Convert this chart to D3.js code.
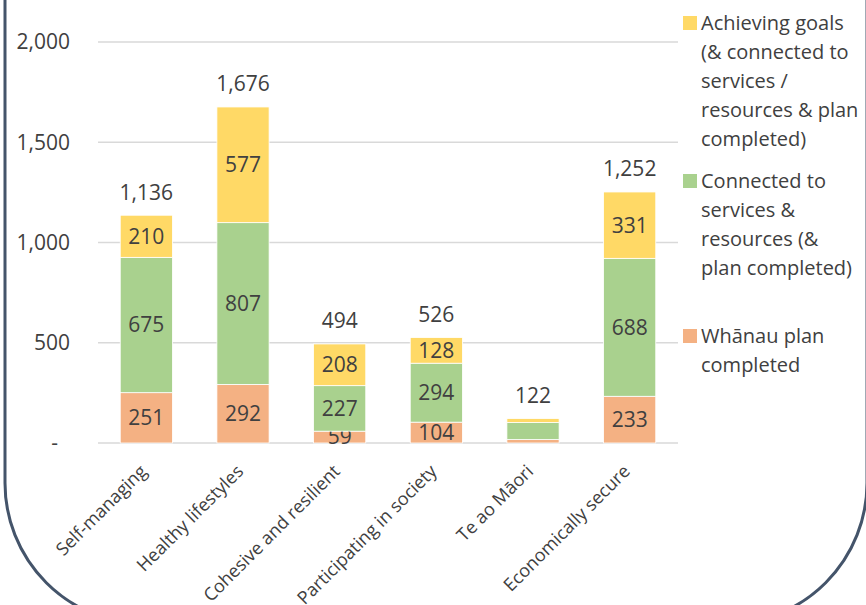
<!DOCTYPE html>
<html>
<head>
<meta charset="utf-8">
<script src="https://cdn.jsdelivr.net/npm/d3@7"></script>
<style>
  body { margin: 0; background: #fff; }
  text { font-family: "Open Sans", sans-serif; fill: #404040; }
</style>
</head>
<body>
<div id="chart"></div>
<script>
var categories = ["Self-managing", "Healthy lifestyles", "Cohesive and resilient",
                  "Participating in society", "Te ao Māori", "Economically secure"];
var planCompleted = [251, 292, 59, 104, 17, 233];
var connected = [675, 807, 227, 294, 85, 688];
var achieving = [210, 577, 208, 128, 20, 331];
var totals = [1136, 1676, 494, 526, 122, 1252];
var showSegLabels = [true, true, true, true, false, true];
var yTicks = [0, 500, 1000, 1500, 2000];

var seriesNames = ["planCompleted", "connected", "achieving"];
var colors = { planCompleted: "#F4B183", connected: "#A9D18E", achieving: "#FFD966" };

var W = 866, H = 605;
var margin = {top: 42, right: 188, bottom: 162, left: 98},
    width = W - margin.left - margin.right,
    height = H - margin.top - margin.bottom;

var svg = d3.select("#chart").append("svg")
    .attr("width", W)
    .attr("height", H);

// rounded frame, mostly cropped
svg.append("rect")
  .attr("x", 5).attr("y", -200)
  .attr("width", 862).attr("height", 824)
  .attr("rx", 141).attr("ry", 141)
  .attr("fill", "none")
  .attr("stroke", "#44546A")
  .attr("stroke-width", 3);

var g = svg.append("g")
  .attr("transform", "translate(" + margin.left + "," + margin.top + ")");

var x = d3.scaleBand().domain(categories).range([0, width]).paddingInner(0.46).paddingOuter(0.23);
var y = d3.scaleLinear().domain([0, 2000]).range([height, 0]);

// gridlines
g.selectAll(".grid").data(yTicks).enter().append("line")
  .attr("x1", 0).attr("x2", width)
  .attr("y1", function(d) { return y(d); })
  .attr("y2", function(d) { return y(d); })
  .attr("stroke", "#D9D9D9")
  .attr("stroke-width", 1.3);

// y tick labels (zero shown as a dash, accounting style)
g.selectAll(".ytick").data(yTicks).enter().append("text")
  .attr("x", function(d) { return d === 0 ? -40 : -28; })
  .attr("y", function(d) { return y(d); })
  .attr("dy", "0.35em")
  .attr("text-anchor", "end")
  .attr("font-size", "21px")
  .text(function(d) { return d === 0 ? "-" : d3.format(",")(d); });

var rows = categories.map(function(c, i) {
  return {cat: c, planCompleted: planCompleted[i], connected: connected[i], achieving: achieving[i], i: i};
});
var stacked = d3.stack().keys(seriesNames)(rows);

var layer = g.selectAll(".layer").data(stacked).enter().append("g")
  .attr("fill", function(d) { return colors[d.key]; });

layer.selectAll("rect").data(function(d) { return d; }).enter().append("rect")
  .attr("x", function(d) { return x(d.data.cat); })
  .attr("width", x.bandwidth())
  .attr("y", function(d) { return y(d[1]); })
  .attr("height", function(d) { return y(d[0]) - y(d[1]); })
  .attr("stroke", "#fff")
  .attr("stroke-width", 0.8);

layer.selectAll(".seg").data(function(d) { return d.filter(function(p) { return showSegLabels[p.data.i]; }); })
  .enter().append("text")
  .attr("x", function(d) { return x(d.data.cat) + x.bandwidth() / 2; })
  .attr("y", function(d) { return (y(d[0]) + y(d[1])) / 2; })
  .attr("dy", "0.35em")
  .attr("text-anchor", "middle")
  .attr("font-size", "21px")
  .text(function(d) { return d[1] - d[0]; });

// totals
g.selectAll(".total").data(rows).enter().append("text")
  .attr("x", function(d) { return x(d.cat) + x.bandwidth() / 2; })
  .attr("y", function(d) { return y(totals[d.i]) - 23; })
  .attr("dy", "0.35em")
  .attr("text-anchor", "middle")
  .attr("font-size", "21px")
  .text(function(d) { return d3.format(",")(totals[d.i]); });

// x labels
g.selectAll(".xlab").data(categories).enter().append("text")
  .attr("transform", function(d) {
    return "translate(" + (x(d) + x.bandwidth() / 2 - 3) + "," + (height + 25) + ") rotate(-45)";
  })
  .attr("text-anchor", "end")
  .attr("dy", "0.35em")
  .attr("font-size", "18px")
  .text(function(d) { return d; });

// legend
var legend = [
  {key: "achieving", y: 23, lines: ["Achieving goals", "(& connected to", "services /", "resources & plan", "completed)"]},
  {key: "connected", y: 181, lines: ["Connected to", "services &", "resources (&", "plan completed)"]},
  {key: "planCompleted", y: 336, lines: ["Whānau plan", "completed"]}
];
var lg = svg.selectAll(".legend").data(legend).enter().append("g");
lg.append("rect")
  .attr("x", 683)
  .attr("y", function(d) { return d.y - 7; })
  .attr("width", 14).attr("height", 14)
  .attr("fill", function(d) { return colors[d.key]; });
lg.each(function(d) {
  d3.select(this).selectAll("text").data(d.lines).enter().append("text")
    .attr("x", 701)
    .attr("y", function(t, j) { return d.y + j * 29; })
    .attr("dy", "0.35em")
    .attr("font-size", "20px")
    .text(function(t) { return t; });
});
</script>
</body>
</html>
